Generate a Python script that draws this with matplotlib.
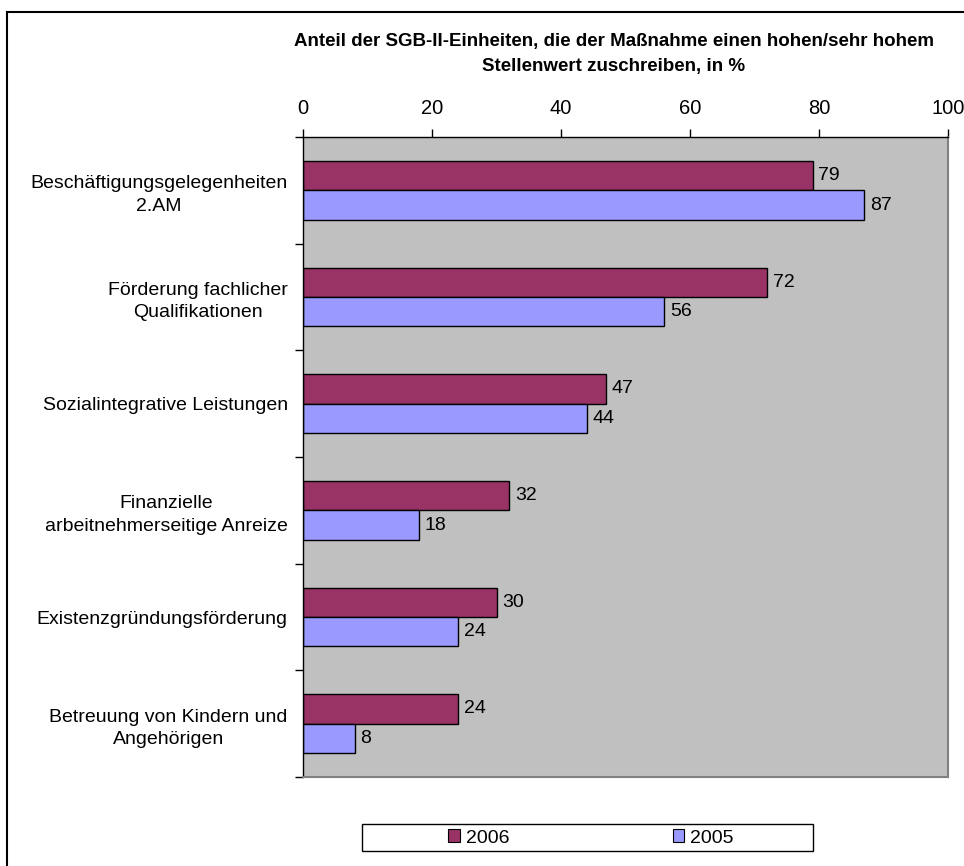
import numpy as np
import matplotlib
matplotlib.use("Agg")
import matplotlib.pyplot as plt
from matplotlib.patches import Patch, Rectangle
from matplotlib.lines import Line2D

plt.rcParams['font.family'] = ['Liberation Sans', 'DejaVu Sans']

categories = [
    "Beschäftigungsgelegenheiten\n2.AM",
    "Förderung fachlicher\nQualifikationen",
    "Sozialintegrative Leistungen",
    "Finanzielle\narbeitnehmerseitige Anreize",
    "Existenzgründungsförderung",
    "Betreuung von Kindern und\nAngehörigen",
]
values_2006 = [79, 72, 47, 32, 30, 24]
values_2005 = [87, 56, 44, 18, 24, 8]
years = ["2006", "2005"]
colors = ["#993366", "#9999FF"]

W, H = 964, 866
fig = plt.figure(figsize=(W / 100, H / 100), dpi=100)

# axes box in pixels
x0, x1, y0, y1 = 303, 948, 137, 777
ax = fig.add_axes([x0 / W, 1 - y1 / H, (x1 - x0) / W, (y1 - y0) / H])
ax.set_facecolor("#C0C0C0")

pos = np.arange(len(categories))
h = 0.276
ax.barh(pos - h / 2, values_2006, height=h, color=colors[0], edgecolor="black", linewidth=1)
ax.barh(pos + h / 2, values_2005, height=h, color=colors[1], edgecolor="black", linewidth=1)

for p, v in zip(pos, values_2006):
    ax.text(v + 0.9, p - h / 2, str(v), va="center", ha="left", fontsize=14)
for p, v in zip(pos, values_2005):
    ax.text(v + 0.9, p + h / 2, str(v), va="center", ha="left", fontsize=14)

ax.set_xlim(0, 100)
ax.set_ylim(len(categories) - 0.5, -0.5)
ax.xaxis.tick_top()
ax.set_xticks(np.arange(0, 101, 20))
ax.tick_params(axis="x", direction="out", length=6, width=1, labelsize=14.5, pad=8)

ax.set_yticks(pos)
ax.set_yticklabels(categories, fontsize=14, multialignment="center", linespacing=1.42)
ax.set_yticks(np.arange(-0.5, len(categories)), minor=True)
ax.tick_params(axis="y", which="major", length=0, pad=11)
ax.tick_params(axis="y", which="minor", direction="out", length=6, width=1)

for s in ["left", "top"]:
    ax.spines[s].set_color("black")
    ax.spines[s].set_linewidth(1)
for s in ["right", "bottom"]:
    ax.spines[s].set_color("#808080")
    ax.spines[s].set_linewidth(1.5)

fig.text(614 / W, 1 - 54 / H,
         "Anteil der SGB-II-Einheiten, die der Maßnahme einen hohen/sehr hohem\nStellenwert zuschreiben, in %",
         ha="center", va="center", fontsize=13.5, fontweight="bold", linespacing=1.55)

# legend box
lx0, lx1, ly0, ly1 = 362, 813, 824, 851
fig.add_artist(Rectangle((lx0 / W, 1 - ly1 / H), (lx1 - lx0) / W, (ly1 - ly0) / H,
                         transform=fig.transFigure, facecolor="white",
                         edgecolor="black", linewidth=1))
handles = [Patch(facecolor=c, edgecolor="black", linewidth=0.8) for c in colors]
fig.legend(handles, years, loc="center", bbox_to_anchor=(591 / W, 1 - 838 / H),
           ncol=2, frameon=False, fontsize=14, handlelength=0.6, handleheight=0.6,
           handletextpad=0.3, columnspacing=8.4, borderpad=0)

# outer border (top and left edges visible)
fig.add_artist(Line2D([7 / W, 7 / W], [0, 1 - 12 / H], transform=fig.transFigure,
                      color="black", linewidth=1.5))
fig.add_artist(Line2D([7 / W, 1], [1 - 12 / H, 1 - 12 / H], transform=fig.transFigure,
                      color="black", linewidth=1.5))

fig.savefig("out.png", dpi=100)
